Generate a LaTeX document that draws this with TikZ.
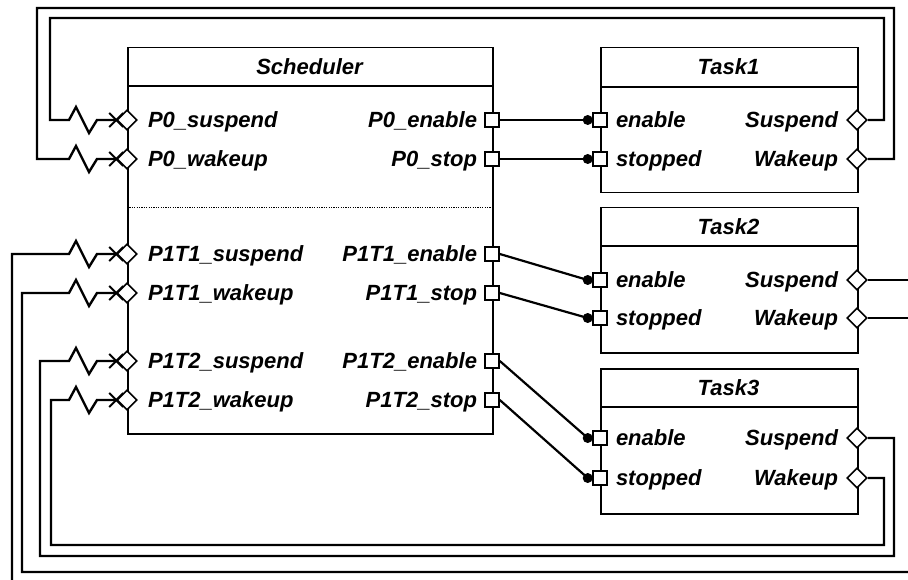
\documentclass[tikz,border=0pt]{standalone}
\usepackage{fontspec}
\setmainfont{Liberation Sans}
\usetikzlibrary{shapes.geometric,backgrounds,calc}
\begin{document}
\begin{tikzpicture}[x=1pt,y=-1pt,
  box/.style={draw,line width=1.5pt,anchor=north west,inner sep=0pt},
  dport/.style={diamond,draw,fill=white,line width=1.6pt,minimum width=20pt,minimum height=20pt,inner sep=0pt},
  sport/.style={rectangle,draw,fill=white,line width=1.6pt,minimum size=14pt,inner sep=0pt},
  blob/.style={circle,fill=black,minimum size=10pt,inner sep=0pt},
  lbl/.style={font=\fontsize{22}{24}\selectfont\bfseries\itshape,inner sep=0pt,text height=15.7pt,text depth=0pt},
  conn/.style={line width=2.2pt},
  route/.style={line width=2.4pt},
  xarr/.style={line width=1.9pt},
  hdr/.style={line width=1.5pt}
]
\useasboundingbox (0,0) rectangle (908,580);

% boxes
\node[box,minimum width=365pt,minimum height=386pt] (sched) at (127,47) {};
\node[box,minimum width=257pt,minimum height=145pt] (task1) at (600,47) {};
\node[box,minimum width=257pt,minimum height=145pt] (task2) at (600,207) {};
\node[box,minimum width=257pt,minimum height=145pt] (task3) at (600,368) {};
\draw[hdr] (127,86) -- (492,86);
\draw[hdr] (600,87) -- (857,87);
\draw[hdr] (600,246) -- (857,246);
\draw[hdr] (600,407) -- (857,407);
\draw[line width=0.9pt,dash pattern=on 1.2pt off 1.2pt] (127,207) -- (492,207);

% titles
\node[lbl] (tS) at (309.5,66.5) {Scheduler};
\node[lbl] (tT1) at (728.5,67) {Task1};
\node[lbl] (tT2) at (728.5,226.5) {Task2};
\node[lbl] (tT3) at (728.5,387.5) {Task3};

% scheduler ports
\node[dport] (sL1) at (127,120) {};
\node[dport] (sL2) at (127,159) {};
\node[dport] (sL3) at (127,254) {};
\node[dport] (sL4) at (127,293) {};
\node[dport] (sL5) at (127,361) {};
\node[dport] (sL6) at (127,400) {};
\node[sport] (sR1) at (492,120) {};
\node[sport] (sR2) at (492,159) {};
\node[sport] (sR3) at (492,254) {};
\node[sport] (sR4) at (492,293) {};
\node[sport] (sR5) at (492,361) {};
\node[sport] (sR6) at (492,400) {};

% task ports
\node[sport] (t1e) at (600,120) {};
\node[sport] (t1s) at (600,159) {};
\node[sport] (t2e) at (600,280) {};
\node[sport] (t2s) at (600,318) {};
\node[sport] (t3e) at (600,438) {};
\node[sport] (t3s) at (600,478) {};
\node[dport] (t1u) at (857,120) {};
\node[dport] (t1w) at (857,159) {};
\node[dport] (t2u) at (857,280) {};
\node[dport] (t2w) at (857,318) {};
\node[dport] (t3u) at (857,438) {};
\node[dport] (t3w) at (857,478) {};

% labels scheduler
\node[lbl,anchor=west] (lL1) at ([xshift=10pt]sL1.east) {P0\_suspend};
\node[lbl,anchor=west] (lL2) at ([xshift=10pt]sL2.east) {P0\_wakeup};
\node[lbl,anchor=west] (lL3) at ([xshift=10pt]sL3.east) {P1T1\_suspend};
\node[lbl,anchor=west] (lL4) at ([xshift=10pt]sL4.east) {P1T1\_wakeup};
\node[lbl,anchor=west] (lL5) at ([xshift=10pt]sL5.east) {P1T2\_suspend};
\node[lbl,anchor=west] (lL6) at ([xshift=10pt]sL6.east) {P1T2\_wakeup};
\node[lbl,anchor=east] (lR1) at ([xshift=-7pt]sR1.west) {P0\_enable};
\node[lbl,anchor=east] (lR2) at ([xshift=-7pt]sR2.west) {P0\_stop};
\node[lbl,anchor=east] (lR3) at ([xshift=-7pt]sR3.west) {P1T1\_enable};
\node[lbl,anchor=east] (lR4) at ([xshift=-7pt]sR4.west) {P1T1\_stop};
\node[lbl,anchor=east] (lR5) at ([xshift=-7pt]sR5.west) {P1T2\_enable};
\node[lbl,anchor=east] (lR6) at ([xshift=-7pt]sR6.west) {P1T2\_stop};

% labels tasks
\foreach \t in {1,2,3}{
  \node[lbl,anchor=west] (le\t) at ([xshift=8pt]t\t e.east) {enable};
  \node[lbl,anchor=west] (ls\t) at ([xshift=8pt]t\t s.east) {stopped};
  \node[lbl,anchor=east] (lu\t) at ([xshift=-8pt]t\t u.west) {Suspend};
  \node[lbl,anchor=east] (lw\t) at ([xshift=-8pt]t\t w.west) {Wakeup};
}

% dots
\node[blob] (d1e) at ([xshift=-4.5pt]t1e.west) {};
\node[blob] (d1s) at ([xshift=-4.5pt]t1s.west) {};
\node[blob] (d2e) at ([xshift=-4.5pt]t2e.west) {};
\node[blob] (d2s) at ([xshift=-4.5pt]t2s.west) {};
\node[blob] (d3e) at ([xshift=-4.5pt]t3e.west) {};
\node[blob] (d3s) at ([xshift=-4.5pt]t3s.west) {};

% free ends
\coordinate (exA) at (910,280);
\coordinate (exB) at (910,318);
\coordinate (enA) at (12,582);
\coordinate (enB) at (910,572);

\begin{pgfonlayer}{background}
  \draw[conn] (sR1.east) -- (d1e.center);
  \draw[conn] (sR2.east) -- (d1s.center);
  \draw[conn] (sR3.east) -- (d2e.center);
  \draw[conn] (sR4.east) -- (d2s.center);
  \draw[conn] (sR5.east) -- (d3e.center);
  \draw[conn] (sR6.east) -- (d3s.center);

  % P0_suspend
  \draw[route] (t1u.east) -| (884,18) -| (50,120) -- (69,120)
     -- ++(7,-13) -- ++(13,26) -- ++(8,-13) -- (sL1.west);
  % P0_wakeup
  \draw[route] (t1w.east) -| (894,8) -| (37,159) -- (69,159)
     -- ++(7,-13) -- ++(13,26) -- ++(8,-13) -- (sL2.west);
  % P1T1_suspend
  \draw[route] (t2u.east) -- (exA);
  \draw[route] (enA) |- (69,254)
     -- ++(7,-13) -- ++(13,26) -- ++(8,-13) -- (sL3.west);
  % P1T1_wakeup
  \draw[route] (t2w.east) -- (exB);
  \draw[route] (enB) -| (22,293) -- (69,293)
     -- ++(7,-13) -- ++(13,26) -- ++(8,-13) -- (sL4.west);
  % P1T2_suspend
  \draw[route] (t3u.east) -| (894,556) -| (40,361) -- (69,361)
     -- ++(7,-13) -- ++(13,26) -- ++(8,-13) -- (sL5.west);
  % P1T2_wakeup
  \draw[route] (t3w.east) -| (884,545) -| (51,400) -- (69,400)
     -- ++(7,-13) -- ++(13,26) -- ++(8,-13) -- (sL6.west);

  \foreach \p in {sL1,sL2,sL3,sL4,sL5,sL6}{
    \draw[xarr] (\p.west) +(-7,-7) -- +(7,7) +(-7,7) -- +(7,-7);
  }
\end{pgfonlayer}
\end{tikzpicture}
\end{document}
